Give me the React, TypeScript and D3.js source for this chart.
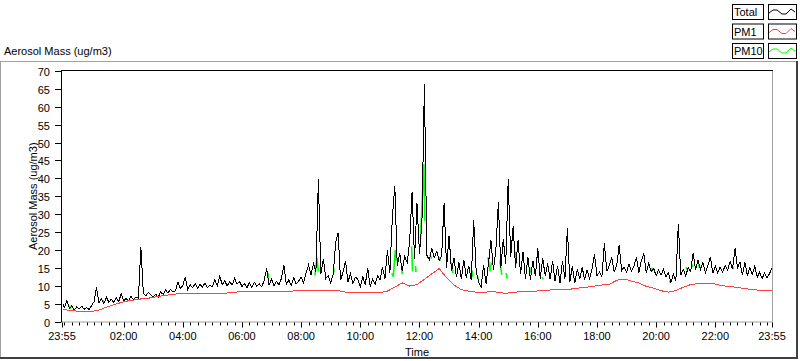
import React from 'react';
import * as d3 from 'd3';

// Minutes after 23:55 for the labelled x ticks
const xTickLabels = ['23:55', '02:00', '04:00', '06:00', '08:00', '10:00', '12:00', '14:00', '16:00', '18:00', '20:00', '22:00', '23:55'];
const xTickMinutes = [0, 125, 245, 365, 485, 605, 725, 845, 965, 1085, 1205, 1325, 1440];
const yTicks = [0, 5, 10, 15, 20, 25, 30, 35, 40, 45, 50, 55, 60, 65, 70];

const seriesNames = ['Total', 'PM1', 'PM10'];
const seriesColors = ['#000000', '#ff4040', '#00ff00'];

// Total aerosol mass, one value every 5 minutes starting 23:55
const totalMass = [
  5.2, 4.0, 5.8, 3.6, 4.4, 3.2, 4.1, 3.5, 4.3, 3.4, 3.9, 3.3,
  4.5, 5.5, 9.5, 5.2, 6.3, 5.0, 6.8, 5.4, 6.2, 5.3, 6.6, 5.6,
  7.7, 5.8, 6.4, 5.9, 7.0, 6.1, 6.8, 6.5, 20.8, 7.8, 7.2, 8.1,
  7.4, 6.9, 7.6, 6.8, 8.2, 7.6, 8.8, 7.9, 9.0, 8.2, 8.6, 11.0,
  9.2, 10.1, 12.5, 9.0, 10.3, 9.4, 10.6, 9.3, 10.4, 9.6, 10.8, 9.5,
  10.2, 9.7, 11.6, 10.0, 12.6, 10.3, 11.4, 9.9, 11.1, 10.2, 12.0, 10.4,
  11.2, 9.8, 10.6, 9.4, 10.8, 9.6, 11.0, 9.9, 10.5, 9.7, 11.4, 14.8,
  10.2, 11.8, 10.0, 11.2, 10.3, 12.0, 15.8, 10.4, 11.6, 10.1, 12.2, 10.5,
  11.3, 12.4, 10.8, 13.5, 15.8, 13.0, 16.2, 14.0, 39.8, 13.2, 17.5, 12.0,
  12.8, 10.8, 13.2, 22.0, 24.7, 11.5, 13.8, 17.0, 11.0, 13.4, 10.6, 12.4,
  11.8, 9.6, 12.6, 10.2, 15.0, 9.8, 11.9, 10.4, 12.8, 11.6, 15.2, 12.0,
  19.9, 13.5, 29.2, 37.9, 15.5, 19.0, 14.0, 18.2, 16.5, 22.0, 36.3, 17.5,
  33.0, 19.0, 27.5, 66.4, 18.5, 17.2, 20.4, 17.8, 19.6, 17.0, 18.5, 33.0,
  15.0, 24.0, 14.0, 17.8, 12.4, 16.5, 11.8, 17.2, 12.2, 15.6, 11.6, 28.3,
  14.2, 11.0, 9.5, 15.8, 10.6, 16.2, 22.7, 14.5, 20.0, 33.3, 15.0, 23.0,
  16.0, 39.8, 18.0, 26.6, 15.0, 22.8, 13.2, 19.5, 12.0, 18.0, 11.6, 17.0,
  12.6, 20.4, 12.0, 17.6, 12.8, 16.2, 11.8, 17.0, 11.2, 15.6, 10.8, 16.8,
  12.0, 26.0, 11.0, 15.5, 10.8, 14.6, 11.8, 15.2, 11.6, 14.4, 12.0, 14.8,
  18.8, 12.8, 13.8, 12.4, 21.9, 14.0, 15.6, 18.0, 13.9, 15.7, 21.3, 14.2,
  15.2, 13.8, 16.0, 14.0, 15.4, 18.0, 13.6, 17.0, 19.0, 13.5, 16.2, 14.0,
  14.8, 12.8, 14.4, 13.0, 14.6, 12.4, 13.6, 11.0, 13.2, 11.4, 27.2, 13.0,
  14.6, 12.8, 15.0, 14.0, 19.2, 14.4, 17.1, 14.6, 16.5, 13.6, 15.6, 18.0,
  13.5, 15.5, 13.6, 15.2, 13.8, 15.7, 14.4, 16.8, 14.6, 20.4, 15.0, 16.6,
  13.0, 16.6, 12.8, 15.0, 13.2, 15.4, 12.4, 13.8, 12.0, 13.6, 12.2, 13.4, 15.0,
];
const totalStepMinutes = 5;

// PM1, one value every 15 minutes starting 23:55
const pm1Mass = [
  3.4, 3.1, 2.9, 2.8, 2.8, 3.2, 4.0, 4.7, 5.3, 5.8, 6.1, 6.4, 6.6, 7.0, 7.3, 7.6,
  7.8, 7.8, 7.7, 7.8, 7.8, 7.8, 7.9, 8.1, 8.3, 8.4, 8.4, 8.4, 8.5, 8.4, 8.5, 8.5,
  8.6, 8.6, 8.7, 8.6, 8.7, 8.8, 8.3, 8.1, 8.0, 8.0, 8.0, 8.1, 8.5, 9.6, 10.8, 9.9,
  10.3, 11.8, 13.3, 14.8, 12.2, 10.2, 8.9, 8.5, 8.2, 8.0, 8.5, 8.1, 7.9, 8.1, 8.4, 8.4,
  8.5, 8.6, 8.8, 8.9, 8.9, 9.1, 9.4, 9.6, 9.9, 10.2, 10.4, 11.5, 11.9, 11.3, 10.8, 9.8,
  9.3, 8.6, 8.2, 8.6, 9.6, 10.3, 10.6, 10.7, 10.6, 10.1, 9.8, 9.6, 9.3, 9.0, 8.8, 8.7, 8.7,
];
const pm1StepMinutes = 15;

// PM10 where it shows apart from Total (minutes after 23:55; null = hidden under Total)
const pm10Minutes = [
  16, 17, null, 83, 84, null, 418, 419, null, 513, 517, 520, null, 551, 552, null,
  669, 672, 676, 678, null, 689, 690, null, 709, 711, null, 717, 718, null,
  727, 734, 736, null, 746, 750, null, 766, 767, null, 790, 793, null, 832, 833, null,
  843, 844, null, 864, 868, 871, null, 888, 892, null, 901, 903, null, 919, 922, null,
  948, 950, null, 974, 976, null, 1196, 1198, null, 1232, 1234, null, 1266, 1268, null,
  1277, 1279, null, 1291, 1293, null, 1360, 1362,
];
const pm10Values = [
  4.4, 3.6, null, 6.0, 5.4, null, 13.5, 11.8, null, 12.8, 17.8, 14.0, null, 15.0, 13.7, null,
  13.5, 12.5, 20.0, 17.0, null, 15.5, 13.2, null, 21.0, 14.0, null, 15.5, 13.8, null,
  23.0, 44.0, 28.0, null, 18.7, 17.5, null, 18.0, 17.0, null, 16.5, 13.5, null, 14.3, 12.5, null,
  12.5, 11.8, null, 18.0, 14.0, 16.5, null, 17.0, 13.0, null, 13.5, 12.0, null, 19.5, 16.0, null,
  15.2, 13.6, null, 12.4, 11.8, null, 15.0, 14.2, null, 11.4, 10.8, null, 15.2, 14.4, null,
  16.0, 15.2, null, 16.0, 15.0, null, 15.4, 14.6,
];

const FONT = '"Liberation Sans", Arial, sans-serif';

export default function App() {
  const W = 800;
  const H = 361;
  const left = 62;
  const right = 772;
  const top = 71;
  const bottom = 321.5;

  const x = d3.scaleLinear().domain([0, 1440]).range([left, right]);
  const y = d3.scaleLinear().domain([0, 70]).range([bottom, top]);

  const totalPath = d3.line<number>()
    .x((_, i) => x(i * totalStepMinutes))
    .y((d) => y(d))(totalMass) || '';
  const pm1Path = d3.line<number>()
    .x((_, i) => x(i * pm1StepMinutes))
    .y((d) => y(d))(pm1Mass) || '';
  const pm10Pts = pm10Minutes.map((m, i) => [m, pm10Values[i]] as [number | null, number | null]);
  const pm10Path = d3.line<[number | null, number | null]>()
    .defined((d) => d[0] != null && d[1] != null)
    .x((d) => x(d[0] as number))
    .y((d) => y(d[1] as number))(pm10Pts) || '';

  const minorTicks = d3.range(5, 1440, 15);

  const legendX = 732;
  const legendYs = [4, 23.5, 43];

  return (
    <svg width={W} height={H} style={{ position: 'fixed', left: 0, top: 0, background: '#fff' }}
      fontFamily={FONT} fontSize={11}>
      <rect x={0} y={0} width={W} height={H} fill="#fff" />
      {/* legend */}
      {seriesNames.map((name, i) => {
        const ly = legendYs[i];
        const sx = 768;
        const zig = [[1, 9], [5, 6], [9, 6], [14, 10], [18, 10], [23, 5], [27, 8]];
        return (
          <g key={name}>
            <rect x={legendX + 0.5} y={ly + 0.5} width={31} height={15} fill="#fff" stroke="#000" />
            <text x={legendX + 2} y={ly + 12}>{name}</text>
            <rect x={sx + 0.5} y={ly + 0.5} width={28} height={15} fill="#fff" stroke="#000" />
            <polyline points={zig.map(([a, b]) => `${sx + a},${ly + b}`).join(' ')}
              fill="none" stroke={seriesColors[i]} strokeWidth={1} />
          </g>
        );
      })}
      {/* outer frame */}
      <line x1={0} x2={797} y1={61.5} y2={61.5} stroke="#a0a0a0" />
      <line x1={0.5} x2={0.5} y1={61} y2={358} stroke="#a0a0a0" />
      <line x1={797} x2={797} y1={61} y2={359} stroke="#404040" strokeWidth={2} />
      <line x1={0} x2={798} y1={358} y2={358} stroke="#404040" strokeWidth={2} />
      {/* title */}
      <text x={4} y={55}>Aerosol Mass (ug/m3)</text>
      {/* y axis label */}
      <text transform={`translate(37,${(top + bottom) / 2}) rotate(-90)`} textAnchor="middle">Aerosol Mass (ug/m3)</text>
      {/* plot frame */}
      <line x1={right + 0.5} x2={right + 0.5} y1={top} y2={bottom} stroke="#a0a0a0" />
      <line x1={left} x2={right + 1} y1={bottom + 0.5} y2={bottom + 0.5} stroke="#a0a0a0" />
      {/* data */}
      <defs>
        <clipPath id="plotclip">
          <rect x={left + 1} y={top + 1} width={right - left - 1} height={bottom - top} />
        </clipPath>
      </defs>
      <g clipPath="url(#plotclip)" fill="none">
        <path d={pm10Path} stroke={seriesColors[2]} strokeWidth={1.6} />
        <path d={totalPath} stroke={seriesColors[0]} strokeWidth={1} shapeRendering="crispEdges" />
        <path d={pm1Path} stroke={seriesColors[1]} strokeWidth={1} shapeRendering="crispEdges" />
      </g>
      <line x1={left - 0.5} x2={right + 1} y1={top - 0.5} y2={top - 0.5} stroke="#000" />
      <line x1={left - 0.5} x2={left - 0.5} y1={top - 1} y2={bottom + 1} stroke="#000" />
      {/* y ticks */}
      {yTicks.map((t) => (
        <g key={t}>
          <line x1={55} x2={left - 1} y1={Math.round(y(t)) + 0.5} y2={Math.round(y(t)) + 0.5} stroke="#000" />
          <text x={50} y={Math.round(y(t)) + 4.5} textAnchor="end">{t}</text>
        </g>
      ))}
      {/* x ticks */}
      {minorTicks.map((m) => (
        <line key={m} x1={Math.round(x(m)) + 0.5} x2={Math.round(x(m)) + 0.5} y1={bottom + 1} y2={bottom + 4} stroke="#000" />
      ))}
      {xTickMinutes.map((m, i) => (
        <g key={i}>
          <line x1={Math.round(x(m)) + 0.5} x2={Math.round(x(m)) + 0.5} y1={bottom + 1} y2={bottom + 6} stroke="#000" />
          <text x={x(m)} y={339.5} textAnchor="middle">{xTickLabels[i]}</text>
        </g>
      ))}
      <text x={(left + right) / 2} y={356} textAnchor="middle">Time</text>
    </svg>
  );
}
